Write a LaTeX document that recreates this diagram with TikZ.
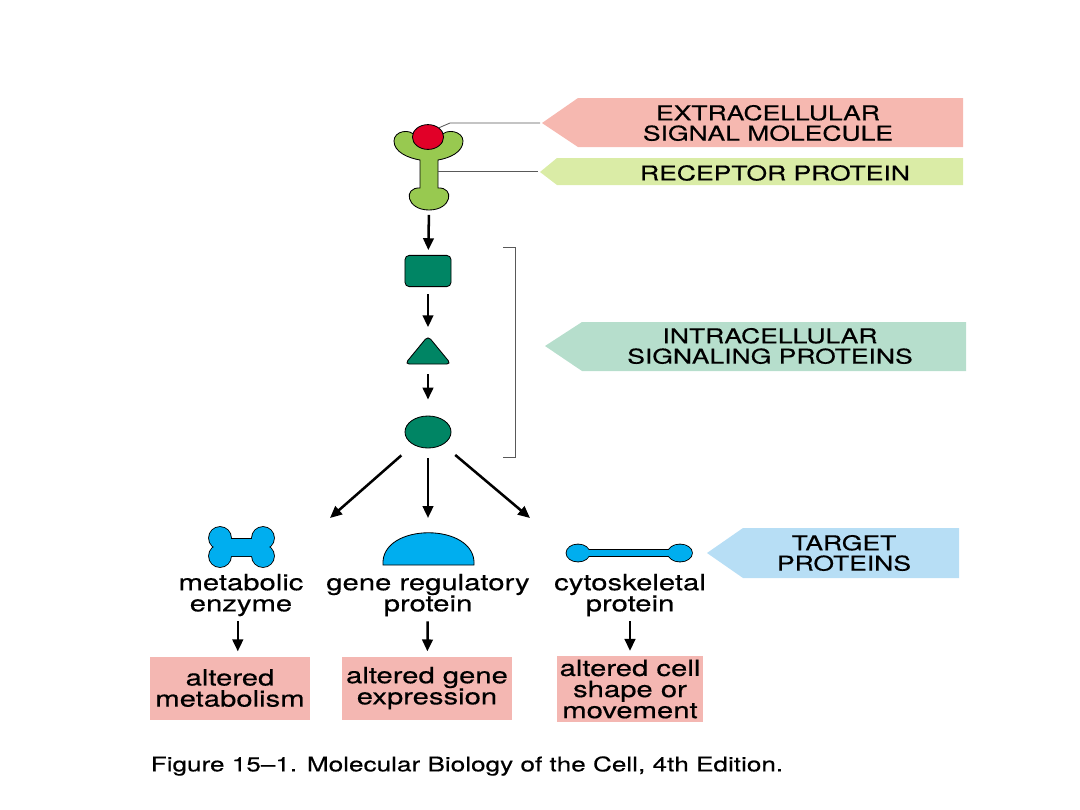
\documentclass[tikz,border=0pt]{standalone}
\usepackage{fontspec}
\setmainfont{TeX Gyre Heros}[FakeStretch=1.3, FakeBold=0.4]
\usetikzlibrary{arrows.meta, positioning, shapes.geometric, calc}

\definecolor{tagpink}{RGB}{246,184,176}
\definecolor{taggreen}{RGB}{218,236,166}
\definecolor{tagteal}{RGB}{182,222,204}
\definecolor{tagblue}{RGB}{183,222,245}
\definecolor{boxpink}{RGB}{244,183,178}
\definecolor{recgreen}{RGB}{152,201,80}
\definecolor{sigred}{RGB}{225,0,40}
\definecolor{kinteal}{RGB}{0,133,100}
\definecolor{tgtblue}{RGB}{0,174,239}

\begin{document}
\begin{tikzpicture}
[
  x=0.025cm, y=-0.025cm,
  every node/.style={inner sep=0pt, align=center},
  arr/.style={-{Triangle[length=8.5pt,width=7.5pt]}, line width=1.8pt},
  lead/.style={draw=black!65, line width=0.6pt},
  tagtext/.style={font=\fontsize{14.5}{14.5}\selectfont},
  lbl/.style={font=\fontsize{16}{15}\selectfont},
  outbox/.style={fill=boxpink, font=\fontsize{16}{15}\selectfont},
  kin/.style={fill=kinteal, draw=black, line width=0.6pt},
  tgt/.style={fill=tgtblue, draw=black, line width=0.6pt}
]
\useasboundingbox (0,0) rectangle (1080,810);

% tags on the right
\fill[tagpink] (542,123) -- (578,98) -- (963,98) -- (963,147) -- (578,147) -- cycle;
\fill[taggreen] (540,172) -- (557,158) -- (963,158) -- (963,185) -- (557,185) -- cycle;
\fill[tagteal] (545,346) -- (582,322) -- (966,322) -- (966,371) -- (582,371) -- cycle;
\fill[tagblue] (707,553) -- (743,528) -- (959,528) -- (959,578) -- (743,578) -- cycle;
\node[tagtext] (tagSig) at (768,123) {EXTRACELLULAR\\SIGNAL MOLECULE};
\node[tagtext] (tagRec) at (775,173) {RECEPTOR PROTEIN};
\node[tagtext] (tagIntra) at (770,346) {INTRACELLULAR\\SIGNALING PROTEINS};
\node[tagtext] (tagTgt) at (844,553) {TARGET\\PROTEINS};
\coordinate (tipSig) at (540,123);
\coordinate (tipRec) at (538,171);

% receptor with its signal
\draw[fill=recgreen, line width=0.6pt]
  (420,188) -- (420,160)
  .. controls (408,158) and (394,152) .. (394,141)
  .. controls (394,131) and (410,128) .. (415,136)
  .. controls (418,146) and (438,146) .. (441,136)
  .. controls (446,128) and (463,131) .. (463,141)
  .. controls (463,152) and (450,158) .. (438,160)
  -- (438,188)
  .. controls (455,187) and (452,210) .. (429,210)
  .. controls (406,210) and (403,187) .. (420,188) -- cycle;
\node[ellipse, fill=sigred, draw=black, line width=0.6pt, minimum width=0.78cm, minimum height=0.62cm] (sig) at (428,137) {};
\coordinate (recStem) at (438,171);
\coordinate (recBot) at (429,210);
\draw[lead] (sig.40) -- (450,123) -- (tipSig);
\draw[lead] (recStem) -- (tipRec);

% intracellular relay
\node[kin, rectangle, rounded corners=3pt, minimum width=1.15cm, minimum height=0.78cm] (kinA) at (428,271) {};
\draw[kin, rounded corners=3pt] (405,364) -- (428,336) -- (451,364) -- cycle;
\coordinate (kinBtop) at (428,336);
\coordinate (kinBbot) at (428,364);
\node[kin, ellipse, minimum width=1.15cm, minimum height=0.8cm] (kinC) at (428,432) {};
\draw[lead] (503,247) -- (515,247) -- (515,457) -- (503,457);

\draw[arr, shorten <=0.12cm, shorten >=0.12cm] (recBot) -- (kinA);
\draw[arr, shorten <=0.18cm, shorten >=0.22cm] (kinA) -- (kinBtop);
\draw[arr, shorten <=0.25cm, shorten >=0.4cm] (kinBbot) -- (kinC);

% target proteins
\coordinate (fanL) at (330,518);
\coordinate (fanM) at (428,518);
\coordinate (fanR) at (530,518);
\draw[arr, shorten <=0.4cm] (kinC) -- (fanL);
\draw[arr, shorten <=0.25cm] (kinC) -- (fanM);
\draw[arr, shorten <=0.4cm] (kinC) -- (fanR);

% metabolic enzyme (outline first, then fill for a single contour)
\foreach \cx/\cy in {220/538, 263/538, 220/556, 263/556}
  \draw[line width=1.2pt] (\cx,\cy) circle (11);
\draw[line width=1.2pt, rounded corners=2pt] (222,539) rectangle (261,556);
\foreach \cx/\cy in {220/538, 263/538, 220/556, 263/556}
  \fill[tgtblue] (\cx,\cy) circle (11);
\fill[tgtblue, rounded corners=2pt] (222,539) rectangle (261,556);
% gene regulatory protein
\draw[tgt] (383,565) .. controls (380,522) and (477,522) .. (474,565) -- cycle;
% cytoskeletal protein
\draw[line width=1.2pt] (578,553) ellipse (11.5 and 8.5);
\draw[line width=1.2pt] (680,553) ellipse (12 and 8.5);
\draw[line width=1.2pt] (585,550) rectangle (672,556);
\fill[tgtblue] (578,553) ellipse (11.5 and 8.5);
\fill[tgtblue] (680,553) ellipse (12 and 8.5);
\fill[tgtblue] (585,550) rectangle (672,556);

\node[lbl] (lblA) at (241,595) {metabolic\\enzyme};
\node[lbl] (lblB) at (428,595) {gene regulatory\\protein};
\node[lbl] (lblC) at (630,595) {cytoskeletal\\protein};

% responses
\node[outbox, minimum width=4cm, minimum height=1.575cm] (outA) at (230,688) {altered\\metabolism};
\node[outbox, minimum width=4.25cm, minimum height=1.575cm] (outB) at (427,688) {altered gene\\expression};
\node[outbox, minimum width=3.65cm, minimum height=1.65cm] (outC) at (630,689) {altered cell\\shape or\\movement};

\draw[arr, shorten <=0.12cm, shorten >=0.12cm] ([xshift=-0.08cm]lblA.south) -- ([xshift=-0.08cm]lblA.south |- outA.north);
\draw[arr, shorten <=0.12cm, shorten >=0.12cm] (lblB) -- (outB);
\draw[arr, shorten <=0.12cm, shorten >=0.12cm] (lblC) -- (outC);

\node[font=\fontsize{14.3}{15}\selectfont] (caption) at (467,766) {Figure 15–1. Molecular Biology of the Cell, 4th Edition.};
\end{tikzpicture}
\end{document}
